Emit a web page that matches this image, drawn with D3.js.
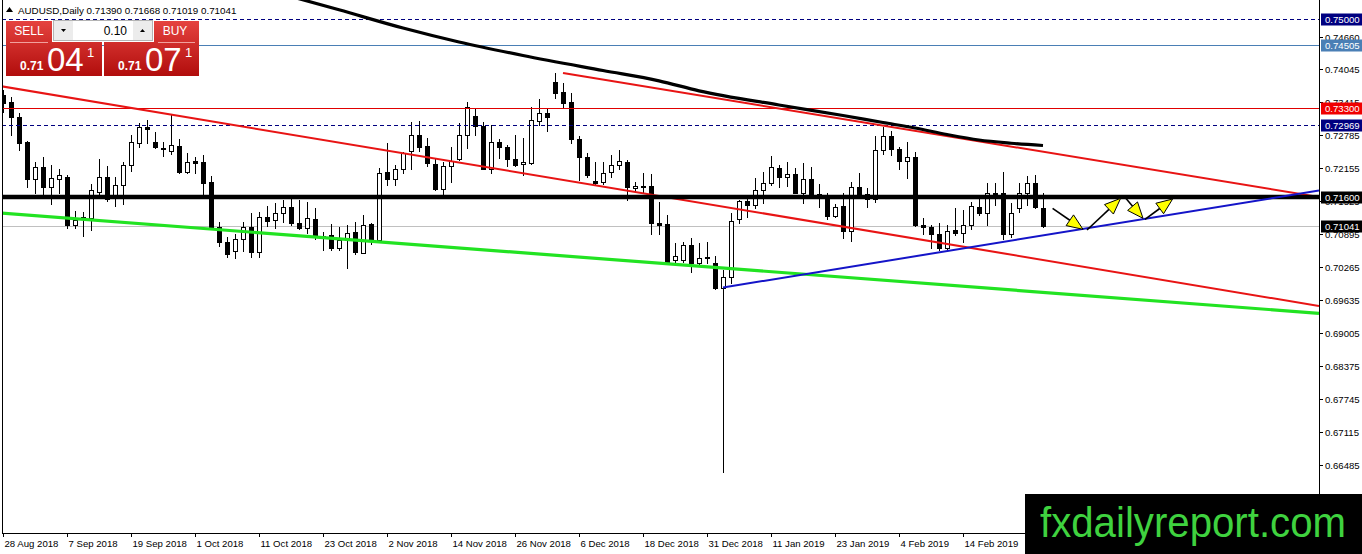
<!DOCTYPE html>
<html><head><meta charset="utf-8">
<script src="https://cdn.jsdelivr.net/npm/d3@7/dist/d3.min.js"></script>
<style>
html,body{margin:0;padding:0;background:#fff;overflow:hidden}
svg{display:block}
text{font-family:"Liberation Sans",Arial,sans-serif}
</style></head><body>
<svg id="c" width="1362" height="554"></svg>
<script>
// ---------- DATA ----------
const symbolTitle = "AUDUSD,Daily";
const lastBar = [0.71390, 0.71668, 0.71019, 0.71041];
const sellPrice = ["0.71", "04", "1"];
const buyPrice = ["0.71", "07", "1"];
const lotSize = "0.10";

// [open, high, low, close], one per trading day from 28 Aug 2018
const candles = [
[0.73548,0.73644,0.73223,0.73395],[0.73420,0.73516,0.72784,0.73122],[0.73128,0.73210,0.72497,0.72631],
[0.72650,0.72669,0.71784,0.71943],[0.71949,0.72274,0.71681,0.72167],[0.72167,0.72369,0.71637,0.71796],
[0.71796,0.72211,0.71465,0.71956],[0.71937,0.72128,0.71681,0.72014],[0.71976,0.72019,0.71001,0.71064],
[0.71058,0.71337,0.71001,0.71160],[0.71192,0.71318,0.70854,0.71223],[0.71192,0.71848,0.70969,0.71733],
[0.71700,0.72325,0.71637,0.71976],[0.71976,0.72191,0.71528,0.71555],[0.71574,0.71976,0.71427,0.71823],
[0.71823,0.72262,0.71465,0.72205],[0.72205,0.72784,0.72102,0.72650],[0.72625,0.73019,0.72560,0.72931],
[0.72942,0.73070,0.72637,0.72904],[0.72650,0.72835,0.72535,0.72549],[0.72530,0.72644,0.72383,0.72511],
[0.72484,0.73185,0.72421,0.72587],[0.72574,0.72702,0.72063,0.72083],[0.72083,0.72434,0.72052,0.72268],
[0.72293,0.72358,0.72063,0.72243],[0.72268,0.72402,0.71656,0.71872],[0.71886,0.72000,0.71001,0.71032],
[0.71032,0.71127,0.70663,0.70745],[0.70745,0.70829,0.70447,0.70510],[0.70573,0.70892,0.70428,0.70791],
[0.70791,0.71127,0.70573,0.71032],[0.71020,0.71293,0.70459,0.70554],[0.70554,0.71318,0.70459,0.71223],
[0.71223,0.71427,0.71045,0.71146],[0.71160,0.71490,0.71001,0.71299],[0.71299,0.71542,0.71127,0.71414],
[0.71414,0.71574,0.71064,0.71097],[0.71097,0.71542,0.70988,0.71001],[0.71001,0.71509,0.70906,0.71192],
[0.71173,0.71383,0.70791,0.70854],[0.70854,0.70936,0.70587,0.70829],[0.70873,0.71083,0.70587,0.70619],
[0.70619,0.71032,0.70587,0.70778],[0.70778,0.71064,0.70237,0.70917],[0.70936,0.71127,0.70510,0.70554],
[0.70535,0.71255,0.70523,0.71064],[0.71083,0.71108,0.70701,0.70778],[0.70778,0.72148,0.70764,0.72063],
[0.72083,0.72625,0.71828,0.71937],[0.71937,0.72211,0.71828,0.72128],[0.72128,0.72465,0.72063,0.72446],
[0.72484,0.73038,0.72128,0.72778],[0.72778,0.73051,0.72484,0.72560],[0.72574,0.72721,0.72191,0.72255],
[0.72230,0.72319,0.71733,0.71746],[0.71746,0.72274,0.71637,0.72191],[0.72191,0.72549,0.71891,0.72293],
[0.72331,0.73007,0.72306,0.72778],[0.72778,0.73420,0.72530,0.73324],[0.73147,0.73275,0.72784,0.72956],
[0.72956,0.73038,0.72125,0.72140],[0.72140,0.72975,0.72052,0.72650],[0.72650,0.72702,0.72339,0.72549],
[0.72549,0.72593,0.72191,0.72331],[0.72319,0.72784,0.72191,0.72211],[0.72230,0.72721,0.72019,0.72268],
[0.72255,0.73313,0.72230,0.73070],[0.73057,0.73466,0.72975,0.73198],[0.73198,0.73294,0.72866,0.73133],
[0.73802,0.73963,0.73485,0.73592],[0.73605,0.73772,0.73294,0.73401],[0.73414,0.73580,0.72625,0.72713],
[0.72702,0.72765,0.71924,0.72358],[0.72358,0.72446,0.71987,0.72019],[0.71899,0.72274,0.71828,0.71872],
[0.71891,0.72274,0.71848,0.72063],[0.72077,0.72402,0.71976,0.72205],[0.72205,0.72497,0.72140,0.72287],
[0.72268,0.72306,0.71542,0.71784],[0.71765,0.71891,0.71720,0.71809],[0.71809,0.72052,0.71670,0.71796],
[0.71809,0.72039,0.70892,0.71097],[0.71097,0.71509,0.70892,0.71070],[0.71083,0.71255,0.70344,0.70363],
[0.70395,0.70715,0.70363,0.70472],[0.70395,0.70745,0.70363,0.70682],[0.70682,0.70810,0.70172,0.70332],
[0.70332,0.70715,0.70300,0.70434],[0.70459,0.70745,0.70332,0.70434],[0.70332,0.70472,0.69836,0.69855],
[0.69855,0.70204,0.66345,0.70065],[0.70065,0.71288,0.69950,0.71146],[0.71173,0.71542,0.71108,0.71528],
[0.71523,0.71574,0.71211,0.71446],[0.71446,0.71956,0.71383,0.71733],[0.71733,0.72083,0.71479,0.71861],
[0.71861,0.72383,0.71828,0.72167],[0.72148,0.72211,0.71784,0.71976],[0.71976,0.72274,0.71809,0.72039],
[0.72039,0.72148,0.71670,0.71681],[0.71681,0.72243,0.71490,0.71937],[0.71937,0.72167,0.71637,0.71656],
[0.71656,0.71848,0.71414,0.71632],[0.71618,0.71670,0.71173,0.71236],[0.71236,0.71465,0.71211,0.71414],
[0.71427,0.71681,0.70810,0.70955],[0.70955,0.71891,0.70764,0.71796],[0.71784,0.72063,0.71605,0.71637],
[0.71656,0.71765,0.71402,0.71555],[0.71555,0.72765,0.71509,0.72497],[0.72497,0.72942,0.72421,0.72765],
[0.72765,0.72866,0.72402,0.72511],[0.72511,0.72560,0.72128,0.72287],[0.72287,0.72656,0.71956,0.72369],
[0.72358,0.72465,0.71045,0.71064],[0.71064,0.71192,0.70892,0.71020],[0.71020,0.71064,0.70619,0.70892],
[0.70892,0.71097,0.70587,0.70619],[0.70619,0.71064,0.70600,0.70955],[0.70969,0.71383,0.70873,0.70906],
[0.70906,0.71351,0.70745,0.71064],[0.71064,0.71509,0.70982,0.71427],[0.71414,0.71574,0.71255,0.71299],
[0.71299,0.71861,0.71064,0.71670],[0.71681,0.71861,0.71446,0.71656],[0.71670,0.72083,0.70791,0.70892],
[0.70892,0.71479,0.70841,0.71288],[0.71383,0.71861,0.71318,0.71681],[0.71681,0.72000,0.71446,0.71872],
[0.71872,0.72019,0.71383,0.71402],[0.71390,0.71668,0.71019,0.71041]
];

const dateLabels = ["28 Aug 2018","7 Sep 2018","19 Sep 2018","1 Oct 2018","11 Oct 2018","23 Oct 2018",
  "2 Nov 2018","14 Nov 2018","26 Nov 2018","6 Dec 2018","18 Dec 2018","31 Dec 2018","11 Jan 2019",
  "23 Jan 2019","4 Feb 2019","14 Feb 2019"];
const barsPerDateLabel = 8;

const priceTicks = ["0.74660","0.74045","0.73415","0.72785","0.72155","0.71525","0.70895","0.70265",
  "0.69635","0.69005","0.68375","0.67745","0.67115","0.66485","0.65855"];

// moving average (bar index, price)
const movingAverage = [[36,0.75430],[42,0.75176],[50,0.74828],[57,0.74561],[65,0.74303],[75,0.74016],
  [82,0.73819],[87,0.73628],[97,0.73357],[105,0.73156],[110,0.73022],[114,0.72917],[118,0.72793],
  [122,0.72688],[126,0.72627],[130,0.72583]];

// trend lines: [[bar, price],[bar, price]]
const redChannelLong = [[-0.4,0.73720],[164.5,0.69517]];
const redChannelShort = [[70,0.73968],[164.5,0.71599]];
const greenSupport = [[-0.4,0.71293],[164.5,0.69377]];
const blueSupport = [[90,0.69870],[164.5,0.71723]];

// horizontal levels
const dashedLevels = [0.75000, 0.72969];
const blueLevel = 0.74505;
const redLevel = 0.73300;
const keyLevel = 0.71600;
const bidLevel = 0.71041;

// projected path arrows
const arrowPaths = [
  [[131.2,0.71383],[135.0,0.70982]],
  [[135.5,0.70969],[139.7,0.71574]],
  [[140.25,0.71593],[142.5,0.71192]],
  [[142.75,0.71173],[146.2,0.71561]]
];
const watermark = "fxdailyreport.com";

// ---------- DRAW ----------
const svg = d3.select("#c");
const P = {left:2, right:1319, top:0, bottom:533};
const x = d3.scaleLinear().domain([0,130]).range([3,1043]);
const y = d3.scaleLinear().domain([0.74045,0.66485]).range([69,464.7]);

const defs = svg.append("defs");
defs.append("clipPath").attr("id","clip").append("rect")
  .attr("x",P.left).attr("y",P.top).attr("width",P.right-P.left).attr("height",P.bottom-P.top);
const g1 = defs.append("linearGradient").attr("id","red").attr("x1",0).attr("x2",0).attr("y1",0).attr("y2",1);
g1.append("stop").attr("offset","0").attr("stop-color","#e5433f");
g1.append("stop").attr("offset","1").attr("stop-color","#b10d0c");

svg.append("rect").attr("width",1362).attr("height",554).attr("fill","#fff");

const plot = svg.append("g").attr("clip-path","url(#clip)");

function hline(price, color, width, dash){
  const yy = Math.round(y(price)) + 0.5;
  plot.append("line").attr("x1",P.left).attr("x2",P.right).attr("y1",yy).attr("y2",yy)
    .attr("stroke",color).attr("stroke-width",width).attr("stroke-dasharray",dash||null);
}
// bid line behind candles
hline(bidLevel, "#c0c0c0", 1);

// candles
const cg = plot.append("g").attr("shape-rendering","crispEdges");
candles.forEach((d,i)=>{
  const [o,h,l,c] = d;
  const cx = Math.round(x(i));
  cg.append("line").attr("x1",cx+0.5).attr("x2",cx+0.5)
    .attr("y1",Math.round(y(h))).attr("y2",Math.round(y(l))+1).attr("stroke","#000");
  const top = Math.round(y(Math.max(o,c))), bot = Math.round(y(Math.min(o,c)));
  if (bot - top < 1){
    cg.append("rect").attr("x",cx-2).attr("y",top).attr("width",5).attr("height",1).attr("fill","#000");
  } else if (c >= o){
    cg.append("rect").attr("x",cx-1.5).attr("y",top+0.5).attr("width",4).attr("height",bot-top)
      .attr("fill","#fff").attr("stroke","#000");
  } else {
    cg.append("rect").attr("x",cx-2).attr("y",top).attr("width",5).attr("height",bot-top+1).attr("fill","#000");
  }
});

// level lines
dashedLevels.forEach(p=>hline(p,"#000080",1,"4,3"));
hline(blueLevel,"#4a7fb5",1);
hline(redLevel,"#e00000",1);

// trend lines
function tline(pts,color,w){
  plot.append("line").attr("x1",x(pts[0][0])).attr("y1",y(pts[0][1]))
    .attr("x2",x(pts[1][0])).attr("y2",y(pts[1][1]))
    .attr("stroke",color).attr("stroke-width",w);
}
tline(greenSupport,"#22e322",3.2);
tline(redChannelLong,"#e81414",2);
tline(redChannelShort,"#e81414",2);

// moving average
plot.append("path").datum(movingAverage)
  .attr("d",d3.line().x(d=>x(d[0])).y(d=>y(d[1])).curve(d3.curveMonotoneX))
  .attr("fill","none").attr("stroke","#000").attr("stroke-width",3.2);

// key level
plot.append("line").attr("x1",P.left).attr("x2",P.right).attr("y1",y(keyLevel)).attr("y2",y(keyLevel))
  .attr("stroke","#000").attr("stroke-width",4.5);
tline(blueSupport,"#1414c8",2);

// arrows
arrowPaths.forEach(a=>{
  const x0=x(a[0][0]), y0=y(a[0][1]), x1=x(a[1][0]), y1=y(a[1][1]);
  const dx=x1-x0, dy=y1-y0, len=Math.hypot(dx,dy), ux=dx/len, uy=dy/len;
  const hl=16, hw=6.5;
  const bx=x1-ux*hl, by=y1-uy*hl;
  plot.append("line").attr("x1",x0).attr("y1",y0).attr("x2",bx).attr("y2",by)
    .attr("stroke","#000").attr("stroke-width",1.6);
  plot.append("polygon").attr("points",[[x1,y1],[bx-uy*hw,by+ux*hw],[bx+uy*hw,by-ux*hw]].map(p=>p.join(",")).join(" "))
    .attr("fill","#ffff00").attr("stroke","#000").attr("stroke-width",1);
});

// frame (left, right, bottom)
svg.append("path").attr("d",`M${P.left+0.5},0 V${P.bottom+0.5} H${P.right+0.5} V0`)
  .attr("fill","none").attr("stroke","#000").attr("stroke-width",1).attr("shape-rendering","crispEdges");

// price axis
const ax = svg.append("g").attr("font-size","9.6px");
priceTicks.forEach(t=>{
  const yy = Math.round(y(+t))+0.5;
  ax.append("line").attr("x1",P.right).attr("x2",P.right+4).attr("y1",yy).attr("y2",yy).attr("stroke","#000");
  ax.append("text").attr("x",1325).attr("y",yy+3.5).text(t).attr("fill","#000");
});
function tag(price,bg){
  const yy = y(price);
  ax.append("rect").attr("x",1321).attr("y",Math.round(yy)-5.5).attr("width",41).attr("height",12).attr("fill",bg);
  ax.append("text").attr("x",1325).attr("y",Math.round(yy)+4).attr("fill","#fff").text(price.toFixed(5));
}
tag(dashedLevels[0],"#000080");
tag(blueLevel,"#4a7fb5");
tag(redLevel,"#f00000");
tag(dashedLevels[1],"#000080");
tag(keyLevel,"#000");
tag(bidLevel,"#000");

// date axis
const dx = svg.append("g").attr("font-size","9.6px");
dateLabels.forEach((t,i)=>{
  const xx = Math.round(x(i*barsPerDateLabel))+0.5;
  dx.append("line").attr("x1",xx).attr("x2",xx).attr("y1",P.bottom).attr("y2",P.bottom+4).attr("stroke","#000");
  dx.append("text").attr("x",xx+1).attr("y",547).text(t).attr("fill","#000");
});

// header
svg.append("path").attr("d","M6,12 L9.5,7 L13,12 Z").attr("fill","#000");
svg.append("text").attr("x",18).attr("y",14).attr("font-size","9.8px").attr("fill","#000")
  .text(symbolTitle + "  " + lastBar.map(v=>v.toFixed(5)).join(" "));

// one-click trading panel
const pn = svg.append("g");
pn.append("path").attr("d","M6,21 H52 V42 H102 V76 H6 Z").attr("fill","url(#red)");
pn.append("path").attr("d","M154,21 H199 V76 H104 V42 H154 Z").attr("fill","url(#red)");
pn.append("line").attr("x1",10).attr("x2",48).attr("y1",42.5).attr("y2",42.5).attr("stroke","#f1a09d").attr("stroke-width",1);
pn.append("line").attr("x1",158).attr("x2",195).attr("y1",42.5).attr("y2",42.5).attr("stroke","#f1a09d").attr("stroke-width",1);
pn.append("text").attr("x",29).attr("y",35).attr("text-anchor","middle").attr("font-size","12px").attr("fill","#fff").text("SELL");
pn.append("text").attr("x",175).attr("y",35).attr("text-anchor","middle").attr("font-size","12px").attr("fill","#fff").text("BUY");
pn.append("rect").attr("x",53.5).attr("y",20.5).attr("width",99).attr("height",20).attr("fill","#fff").attr("stroke","#b4b4b4");
pn.append("rect").attr("x",54).attr("y",21).attr("width",19).attr("height",19).attr("fill","#ececec");
pn.append("rect").attr("x",133).attr("y",21).attr("width",19).attr("height",19).attr("fill","#ececec");
pn.append("path").attr("d","M61,29 L66,29 L63.5,32 Z").attr("fill","#000");
pn.append("path").attr("d","M140,32 L145,32 L142.5,29 Z").attr("fill","#000");
pn.append("text").attr("x",127).attr("y",35).attr("text-anchor","end").attr("font-size","12px").attr("fill","#000").text(lotSize);
function bigPrice(x0, parts){
  pn.append("text").attr("x",x0).attr("y",70).attr("font-size","12px").attr("font-weight","bold").attr("fill","#fff").text(parts[0]);
  pn.append("text").attr("x",x0+27).attr("y",70.5).attr("font-size","33px").attr("fill","#fff").text(parts[1]);
  pn.append("text").attr("x",x0+67).attr("y",57).attr("font-size","13px").attr("fill","#fff").text(parts[2]);
}
bigPrice(20, sellPrice);
bigPrice(118, buyPrice);

// watermark
svg.append("rect").attr("x",1025).attr("y",494).attr("width",337).attr("height",60).attr("fill","#000");
svg.append("text").attr("x",1040).attr("y",537).attr("font-size","42px").attr("fill","#3fd23f")
  .attr("textLength",306).attr("lengthAdjust","spacingAndGlyphs").text(watermark);
</script>
</body></html>
